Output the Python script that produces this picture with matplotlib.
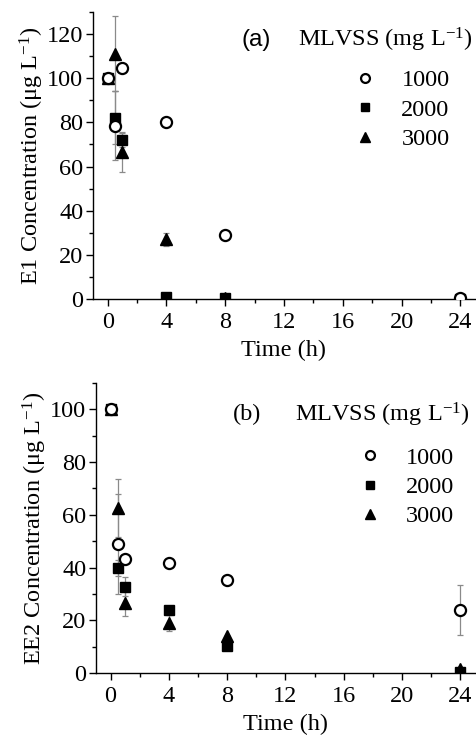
import numpy as np
import matplotlib
matplotlib.use('Agg')
import matplotlib.pyplot as plt
from matplotlib.ticker import MultipleLocator

plt.rcParams['font.family'] = ['Liberation Serif', 'DejaVu Serif']
plt.rcParams['mathtext.fontset'] = 'custom'
plt.rcParams['mathtext.rm'] = 'Liberation Serif'
plt.rcParams['mathtext.it'] = 'Liberation Serif:italic'

# 取样时间 (h)
time_h = [0, 0.5, 1, 4, 8, 24]
series_labels = ['1000', '2000', '3000']

# (a) E1 浓度
e1_1000 = [100, 78.5, 104.5, 80, 29, 0.5]
e1_1000_err = [1, 15.5, 1, 0, 0, 0]
e1_2000 = [100, 82, 72, 1, 0.5, 0]
e1_2000_err = [0, 12, 3, 0, 0, 0]
e1_3000 = [100, 111, 66.5, 27, 0.5, 0]
e1_3000_err = [0, 17, 9, 3, 0, 0]

# (b) EE2 浓度
ee2_1000 = [100, 49, 43.3, 41.9, 35.4, 23.9]
ee2_1000_err = [1, 19, 1.5, 0, 1.5, 9.5]
ee2_2000 = [100, 39.8, 32.8, 24, 10.2, 0.5]
ee2_2000_err = [0, 3, 3.6, 0, 0, 0]
ee2_3000 = [100, 62.5, 26.5, 19, 14, 1.5]
ee2_3000_err = [0, 11, 4.8, 3, 0, 0]

W, H = 477, 738
FS = 17.5
fig = plt.figure(figsize=(W / 100, H / 100), dpi=100)

ax_a = fig.add_axes([93 / W, 1 - 299 / H, 382 / W, 287 / H])
ax_b = fig.add_axes([96 / W, 1 - 673 / H, 379 / W, 290 / H])

# 空心圆画在最上层
styles = [
    dict(marker='o', mfc='white', mec='black', mew=1.6, ms=8, zorder=5),
    dict(marker='s', mfc='black', mec='black', ms=7.5, zorder=3),
    dict(marker='^', mfc='black', mec='black', ms=9, zorder=4),
]


def draw_panel(ax, data, errs, ymax, ylabel):
    for vals, err, st, lab in zip(data, errs, styles, series_labels):
        ax.errorbar(time_h, vals, yerr=err, fmt='none', ecolor='#8a8a8a',
                    elinewidth=0.9, capsize=2.5, capthick=0.9, zorder=2)
        ax.plot(time_h, vals, ls='none', label=lab, **st)
    ax.set_xlim(-1, 25)
    ax.set_ylim(0, ymax)
    ax.xaxis.set_major_locator(MultipleLocator(4))
    ax.xaxis.set_minor_locator(MultipleLocator(2))
    ax.yaxis.set_major_locator(MultipleLocator(20))
    ax.yaxis.set_minor_locator(MultipleLocator(10))
    for s in ['top', 'right']:
        ax.spines[s].set_visible(False)
    for s in ['left', 'bottom']:
        ax.spines[s].set_linewidth(1.0)
    ax.tick_params(which='major', direction='out', length=5, width=1,
                   labelsize=FS, pad=2)
    ax.tick_params(which='minor', direction='out', length=3, width=1)
    ax.tick_params(axis='x', which='major', pad=4)
    ax.set_xlabel('Time (h)', fontsize=FS, labelpad=5)
    ax.set_ylabel(ylabel, fontsize=FS, labelpad=1)


draw_panel(ax_a, [e1_1000, e1_2000, e1_3000],
           [e1_1000_err, e1_2000_err, e1_3000_err], 130,
           r'E1 Concentration ($\mathrm{\mu}$g L$^{\mathrm{-1}}$)')
draw_panel(ax_b, [ee2_1000, ee2_2000, ee2_3000],
           [ee2_1000_err, ee2_2000_err, ee2_3000_err], 110,
           r'EE2 Concentration ($\mathrm{\mu}$g L$^{\mathrm{-1}}$)')

# 面板标记与图例
ax_a.text(0.39, 0.902, '(a)', transform=ax_a.transAxes, fontsize=FS,
          family=['Liberation Sans', 'DejaVu Sans'], va='center')
ax_b.text(0.36, 0.89, '(b)', transform=ax_b.transAxes, fontsize=FS,
          va='center')

for ax, tx, ty, lx, ly in [(ax_a, 0.995, 0.902, 0.68, 0.80),
                           (ax_b, 0.987, 0.89, 0.69, 0.78)]:
    ax.text(tx, ty, r'MLVSS (mg L$^{\mathrm{-1}}$)', transform=ax.transAxes,
            fontsize=FS, ha='right', va='center')
    leg = ax.legend(loc='upper left', bbox_to_anchor=(lx, ly), frameon=False,
                    fontsize=FS, handlelength=1.0, handletextpad=1.0,
                    borderpad=0, borderaxespad=0, labelspacing=0.3,
                    markerscale=0.8)

fig.savefig('out.png', dpi=100)
